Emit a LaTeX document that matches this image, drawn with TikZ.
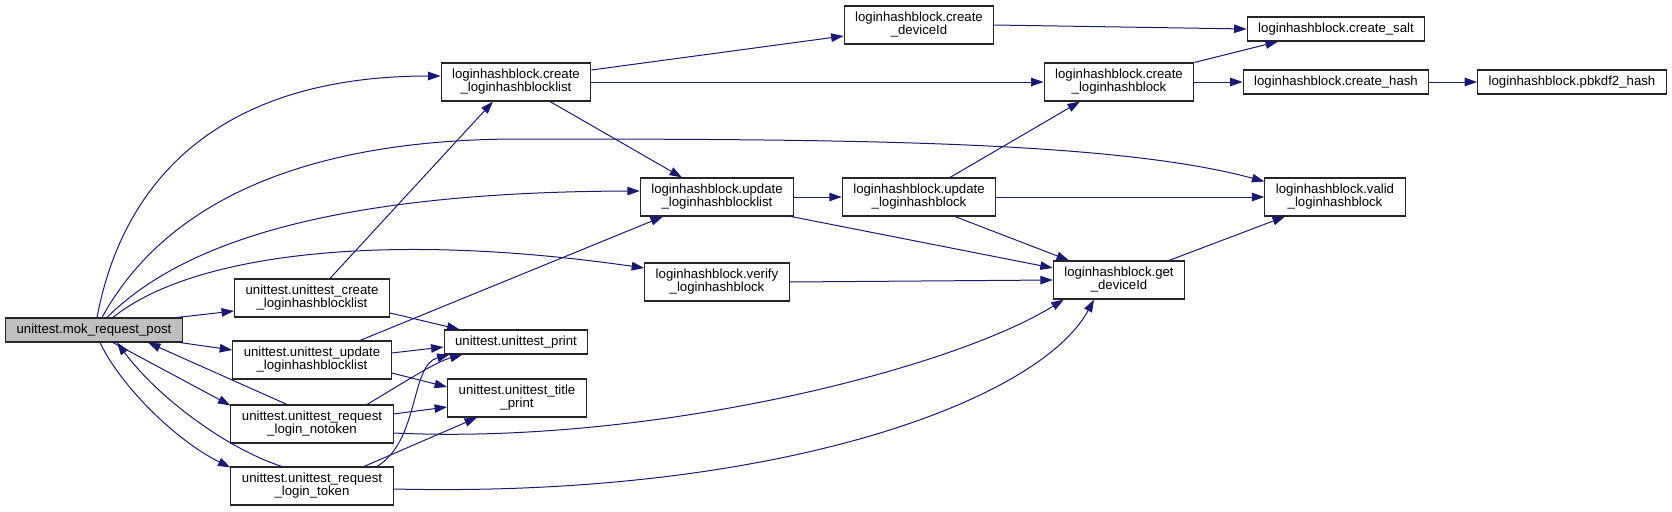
\documentclass[tikz,border=0pt]{standalone}
\usepackage{fontspec}
\setmainfont{Liberation Sans}
\usetikzlibrary{arrows.meta, calc}
\definecolor{edgeblue}{HTML}{191970}
\definecolor{rootgray}{HTML}{BFBFBF}

\begin{document}
\begin{tikzpicture}[
	x=1pt, y=-1pt,
	font=\fontsize{13.2}{13}\selectfont,
	% Define styles
	fnbox/.style={rectangle, draw=black!85, fill=white, line width=1.1pt, inner xsep=11pt, inner ysep=0pt, minimum height=24pt, align=center},
	fnbox2/.style={fnbox, minimum height=38pt},
	rootbox/.style={fnbox, fill=rootgray},
	call/.style={-{Triangle[length=12.5pt, width=8.5pt]}, edgeblue, line width=1pt}
	]
	\useasboundingbox (0,0) rectangle (1672,511);
	
	% 1. Root node
	\node[rootbox] (mok) at (94,330) {unittest.mok\_request\_post};
	
	% 2. Unit tests
	\node[fnbox2] (uc) at (312,298) {unittest.unittest\_create\\\_loginhashblocklist};
	\node[fnbox2] (uu) at (312,360) {unittest.unittest\_update\\\_loginhashblocklist};
	\node[fnbox2] (unt) at (312,424) {unittest.unittest\_request\\\_login\_notoken};
	\node[fnbox2] (ut) at (312,486) {unittest.unittest\_request\\\_login\_token};
	
	% 3. loginhashblock functions
	\node[fnbox2] (clist) at (516,82) {loginhashblock.create\\\_loginhashblocklist};
	\node[fnbox2] (cdev) at (919,25) {loginhashblock.create\\\_deviceId};
	\node[fnbox] (salt) at (1336,29) {loginhashblock.create\_salt};
	\node[fnbox2] (cblock) at (1119,82) {loginhashblock.create\\\_loginhashblock};
	\node[fnbox] (chash) at (1336,82) {loginhashblock.create\_hash};
	\node[fnbox] (pbkdf) at (1572,82) {loginhashblock.pbkdf2\_hash};
	\node[fnbox2] (ulist) at (717,197) {loginhashblock.update\\\_loginhashblocklist};
	\node[fnbox2] (ublock) at (919,197) {loginhashblock.update\\\_loginhashblock};
	\node[fnbox2] (valid) at (1335,197) {loginhashblock.valid\\\_loginhashblock};
	\node[fnbox2] (verify) at (717,282) {loginhashblock.verify\\\_loginhashblock};
	\node[fnbox2] (getdev) at (1119,280) {loginhashblock.get\\\_deviceId};
	
	% 4. Print helpers
	\node[fnbox] (print) at (516,342) {unittest.unittest\_print};
	\node[fnbox2] (title) at (517,398) {unittest.unittest\_title\\\_print};
	
	% 5. Calls from the root
	\draw[call] ($(mok.north)+(3,0)$) .. controls (125,170) and (230,76) .. ($(clist.west)+(0,-6)$);
	\draw[call] ($(mok.north)+(8,0)$) .. controls (150,230) and (260,139) .. (520,139)
		.. controls (850,139) and (1115,141) .. ($(valid.north west)+(0,4)$);
	\draw[call] ($(mok.north)+(13,0)$) .. controls (170,255) and (300,192) .. ($(ulist.west)+(0,-6)$);
	\draw[call] ($(mok.north)+(19,0)$) .. controls (190,255) and (380,230) .. ($(verify.west)+(0,-14)$);
	\draw[call] ($(mok.north east)+(-6,0)$) -- ($(uc.west)+(0,13)$);
	\draw[call] ($(mok.south east)+(-3,0)$) -- ($(uu.west)+(0,-10)$);
	\draw[call] ($(mok.south)+(19,0)$) -- ($(unt.north west)+(0,1)$);
	\draw[call] ($(unt.north)+(-25,0)$) -- ($(mok.south)+(54,0)$);
	\draw[call] ($(mok.south)+(6,0)$) .. controls (120,385) and (175,440) .. ($(ut.north west)+(0,1)$);
	\draw[call] ($(ut.north)+(-30,0)$) .. controls (230,450) and (160,400) .. ($(mok.south)+(23,0)$);
	
	% 6. Calls from the unit tests
	\draw[call] ($(uc.north)+(18,0)$) -- ($(clist.south)+(-23,0)$);
	\draw[call] ($(uc.east)+(0,15)$) -- ($(print.north west)+(16,0)$);
	\draw[call] ($(uu.east)+(0,-7)$) -- ($(print.west)+(0,5)$);
	\draw[call] ($(uu.east)+(0,13)$) -- ($(title.west)+(0,-11)$);
	\draw[call] ($(uu.north)+(48,0)$) -- ($(ulist.south)+(-54,0)$);
	\draw[call] ($(unt.north)+(55,0)$) .. controls (400,385) and (435,362) .. ($(print.south west)+(19,0)$);
	\draw[call] ($(unt.east)+(0,-10)$) -- ($(title.west)+(0,9)$);
	\draw[call] ($(unt.east)+(0,9)$) .. controls (650,445) and (950,370) .. ($(getdev.south west)+(11,0)$);
	\draw[call] ($(ut.north)+(65,0)$) .. controls (420,440) and (410,365) .. ($(print.south west)+(6,0)$);
	\draw[call] ($(ut.north)+(52,0)$) -- ($(title.south)+(-40,0)$);
	\draw[call] ($(ut.east)+(0,3)$) .. controls (780,498) and (1040,400) .. ($(getdev.south)+(-25,0)$);
	
	% 7. Calls between loginhashblock functions
	\draw[call] ($(clist.east)+(0,-12)$) -- ($(cdev.west)+(0,11)$);
	\draw[call] (clist.east) -- (cblock.west);
	\draw[call] ($(clist.south)+(34,0)$) -- ($(ulist.north)+(-35,0)$);
	\draw[call] (cdev.east) -- (salt.west);
	\draw[call] (cblock.north east) -- ($(salt.south)+(-58,0)$);
	\draw[call] (cblock.east) -- (chash.west);
	\draw[call] (chash.east) -- (pbkdf.west);
	\draw[call] (ulist.east) -- (ublock.west);
	\draw[call] ($(ulist.south east)+(-3,0)$) -- ($(getdev.west)+(0,-12)$);
	\draw[call] ($(ublock.north)+(31,0)$) -- ($(cblock.south)+(-39,0)$);
	\draw[call] (ublock.east) -- (valid.west);
	\draw[call] ($(ublock.south)+(36,0)$) -- ($(getdev.north)+(-50,0)$);
	\draw[call] (verify.east) -- (getdev.west);
	\draw[call] ($(getdev.north)+(50,0)$) -- ($(valid.south)+(-50,0)$);
\end{tikzpicture}
\end{document}
